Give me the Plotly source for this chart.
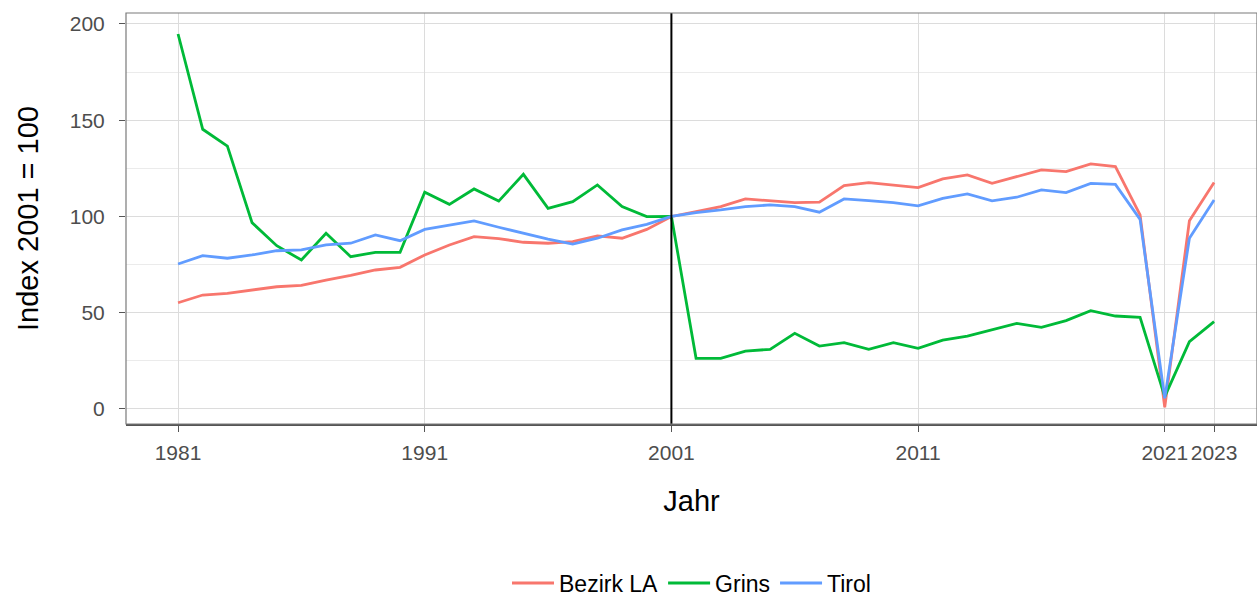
import plotly.graph_objects as go

years = list(range(1981, 2024))

bezirk_la = [55.2, 59.2, 60.1, 61.8, 63.5, 64.2, 67.0, 69.4, 72.2, 73.6,
             80.0, 85.2, 89.5, 88.5, 86.6, 86.1, 86.9, 89.9, 88.7, 93.3,
             100.0, 102.5, 105.1, 109.1, 108.1, 107.2, 107.4, 116.0, 117.6, 116.4,
             115.0, 119.5, 121.6, 117.2, 120.7, 124.2, 123.3, 127.3, 125.9, 100.8,
             0.9, 97.8, 117.6]

grins = [194.8, 145.3, 136.6, 96.8, 84.8, 77.4, 91.3, 79.1, 81.4, 81.4,
         112.6, 106.3, 114.3, 108.0, 121.9, 104.2, 107.7, 116.4, 105.1, 99.9,
         100.0, 26.3, 26.3, 30.1, 31.0, 39.3, 32.7, 34.5, 31.0, 34.5,
         31.5, 35.8, 37.9, 41.4, 44.5, 42.4, 45.9, 51.1, 48.3, 47.6,
         6.4, 35.0, 45.4]

tirol = [75.3, 79.7, 78.3, 80.0, 82.2, 82.6, 85.2, 86.1, 90.4, 87.4,
         93.3, 95.6, 97.7, 94.4, 91.3, 88.2, 85.7, 88.7, 93.0, 95.9,
         100.0, 102.0, 103.4, 105.1, 106.0, 105.1, 102.2, 109.1, 108.2, 107.2,
         105.5, 109.4, 111.7, 108.1, 110.0, 113.8, 112.4, 117.2, 116.7, 98.5,
         5.5, 88.7, 108.6]

x_ticks = [1981, 1991, 2001, 2011, 2021, 2023]
y_ticks = [0, 50, 100, 150, 200]
ref_year = 2001

series = [("Bezirk LA", bezirk_la, "#F8766D"),
          ("Grins", grins, "#00BA38"),
          ("Tirol", tirol, "#619CFF")]

fig = go.Figure()
for name, vals, col in series:
    fig.add_trace(go.Scatter(x=years, y=vals, mode="lines", name=name,
                             line=dict(color=col, width=2.8)))

fig.add_vline(x=ref_year, line=dict(color="black", width=2))

fig.add_shape(type="rect", xref="paper", yref="paper", x0=0, x1=1, y0=0, y1=1,
              line=dict(color="#7A7A7A", width=1.2), layer="above")

font_fam = "Liberation Sans, Arial, sans-serif"
fig.update_layout(
    width=1257, height=597,
    margin=dict(l=126, r=0, t=13, b=173, autoexpand=False),
    plot_bgcolor="white", paper_bgcolor="white",
    font=dict(family=font_fam),
    showlegend=True,
    legend=dict(orientation="h", x=0.5, xanchor="center", y=-0.387, yanchor="middle",
                font=dict(size=23, color="black"), itemwidth=42),
    xaxis=dict(range=[1978.89, 2024.74], tickvals=x_ticks,
               ticktext=[str(v) for v in x_ticks], automargin=False,
               showgrid=True, gridcolor="#DCDCDC", gridwidth=1,
               showline=True, linecolor="#555555", linewidth=2.4,
               zeroline=False, ticks="outside", ticklen=6, tickcolor="#555555",
               tickwidth=1.2, ticklabelstandoff=3,
               tickfont=dict(size=21, color="#4D4D4D"),
               title=dict(text="Jahr", font=dict(size=29, color="black"), standoff=27)),
    yaxis=dict(range=[-7.8, 205.7], tickvals=y_ticks, automargin=False,
               showgrid=True, gridcolor="#DCDCDC", gridwidth=1,
               minor=dict(dtick=25, tick0=25, showgrid=True, gridcolor="#EBEBEB", gridwidth=1),
               zeroline=False, ticks="outside", ticklen=6, tickcolor="#555555",
               tickwidth=1.2, ticklabelstandoff=10,
               tickfont=dict(size=21, color="#4D4D4D"),
               title=dict(text="Index 2001 = 100", font=dict(size=29, color="black"), standoff=22)),
)

fig.write_html("out.html", config={"displayModeBar": False},
               post_script="document.body.style.margin='0';document.body.style.overflow='hidden';")
